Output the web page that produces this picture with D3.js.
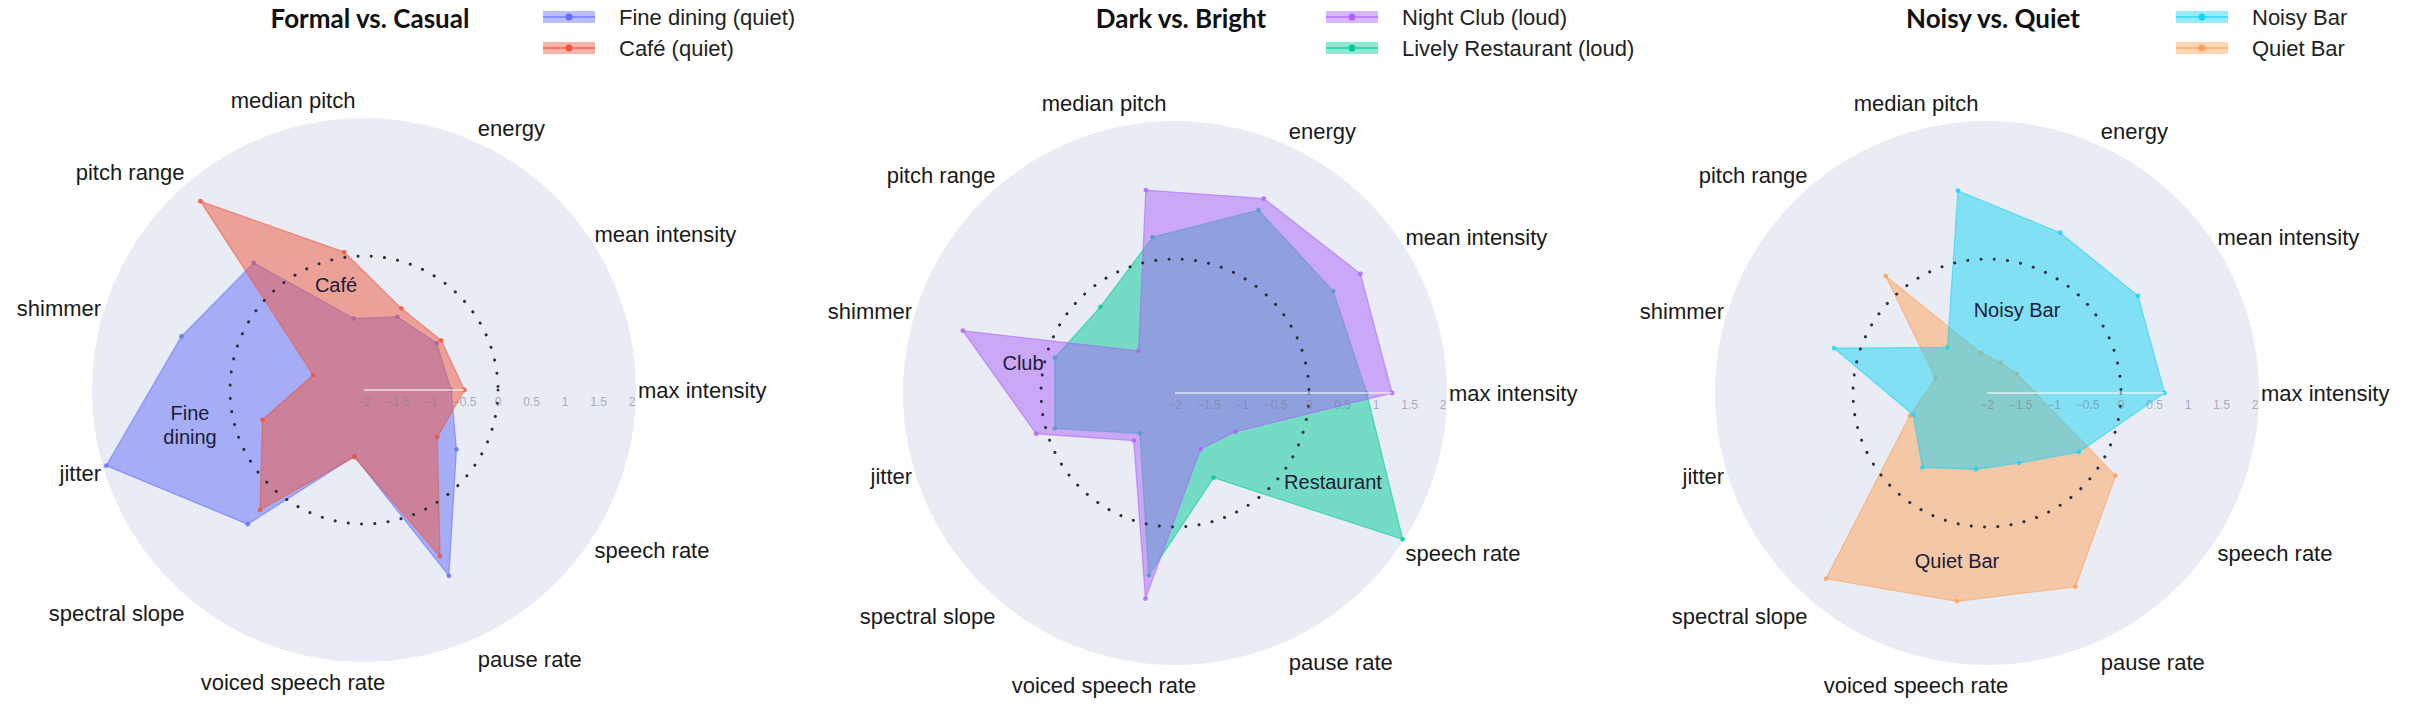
<!DOCTYPE html>
<html>
<head>
<meta charset="utf-8">
<script src="https://cdn.jsdelivr.net/npm/d3@7"></script>
<style>
  body { margin: 0; background: #fff; }
  svg text { font-family: "Liberation Sans", Arial, sans-serif; }
</style>
</head>
<body>
<script>
'use strict';

// feature order runs counter-clockwise, starting at 3 o'clock
const features = ['max intensity', 'mean intensity', 'energy', 'median pitch', 'pitch range',
  'shimmer', 'jitter', 'spectral slope', 'voiced speech rate', 'pause rate', 'speech rate'];
const radialTicks = [-2, -1.5, -1, -0.5, 0, 0.5, 1, 1.5, 2];
const panelTitles = ['Formal vs. Casual', 'Dark vs. Bright', 'Noisy vs. Quiet'];

// z-scored values, same order as features
const fineDining = [-0.7, -0.71, -0.8, -0.92, 0.51, 0.84, 2.01, 0.65, -1.0, 1.05, -0.36];
const cafe = [-0.5, -0.63, -0.66, 0.08, 1.73, -1.21, -0.42, 0.37, -0.99, 0.73, -0.7];
const nightClub = [1.24, 1.29, 1.19, 1.06, -1.17, 1.3, 0.16, -1.06, 1.1, -1.08, -0.93];
const livelyRestaurant = [0.86, 0.81, 1.0, 0.35, -0.3, -0.13, -0.13, -1.2, 0.75, -0.61, 2.04];
const noisyBar = [0.65, 0.68, 0.63, 1.05, -1.1, 0.38, -0.85, -0.53, -0.85, -0.85, -0.37];
const quietBar = [-1.28, -1.47, -1.5, -1.4, 0.31, -1.2, -0.8, 1.67, 1.14, 1.18, 0.28];

// series per panel, listed in legend order; "z" is the drawing order
const panels = [
  { title: panelTitles[0], cx: 364, cy: 390, legendX: 543,
    series: [
      { name: 'Fine dining (quiet)', values: fineDining, color: '#636efa', z: 0 },
      { name: 'Café (quiet)', values: cafe, color: '#ef553b', z: 1 }
    ],
    notes: [
      { lines: ['Café'], dx: -28, dy: -105 },
      { lines: ['Fine', 'dining'], dx: -174, dy: 23 }
    ] },
  { title: panelTitles[1], cx: 1175, cy: 393, legendX: 1326,
    series: [
      { name: 'Night Club (loud)', values: nightClub, color: '#ab63fa', z: 1 },
      { name: 'Lively Restaurant (loud)', values: livelyRestaurant, color: '#00cc96', z: 0 }
    ],
    notes: [
      { lines: ['Club'], dx: -152, dy: -30 },
      { lines: ['Restaurant'], dx: 158, dy: 89 }
    ] },
  { title: panelTitles[2], cx: 1987, cy: 393, legendX: 2176,
    series: [
      { name: 'Noisy Bar', values: noisyBar, color: '#19d3f3', z: 1 },
      { name: 'Quiet Bar', values: quietBar, color: '#ffa15a', z: 0 }
    ],
    notes: [
      { lines: ['Noisy Bar'], dx: 30, dy: -83 },
      { lines: ['Quiet Bar'], dx: -30, dy: 168 }
    ] }
];

const svg = d3.select('body').append('svg')
  .attr('width', 2420)
  .attr('height', 707);

// radius for a value, and d3 radial angle for a feature index
const rScale = d3.scaleLinear().domain([-2, 2.06]).range([0, 272]);
const angle = d3.scaleLinear().domain([0, features.length]).range([Math.PI / 2, Math.PI / 2 - 2 * Math.PI]);
const outerR = rScale.range()[1];

const radial = d3.lineRadial()
  .angle((d, i) => angle(i))
  .radius((d) => rScale(d))
  .curve(d3.curveLinearClosed);

const defs = svg.append('defs');

panels.forEach(drawPanel);

function drawPanel(p, pi) {
  const g = svg.append('g').attr('transform', `translate(${p.cx},${p.cy})`);

  // polar background
  g.append('circle').attr('r', outerR).attr('fill', '#e9ecf5');

  // polygons
  const ordered = p.series.slice().sort((a, b) => a.z - b.z);
  const clip = defs.append('clipPath').attr('id', 'fills' + pi);
  ordered.forEach((s) => {
    clip.append('path').attr('d', radial(s.values));
    g.append('path')
      .attr('d', radial(s.values))
      .attr('fill', s.color)
      .attr('fill-opacity', 0.5)
      .attr('stroke', s.color)
      .attr('stroke-opacity', 0.55)
      .attr('stroke-width', 1.3);
    g.selectAll(null)
      .data(s.values)
      .enter()
      .append('circle')
        .attr('cx', (d, i) => rScale(d) * Math.sin(angle(i)))
        .attr('cy', (d, i) => -rScale(d) * Math.cos(angle(i)))
        .attr('r', 2.4)
        .attr('fill', s.color)
        .attr('opacity', 0.8);
  });

  // dotted reference ring at zero
  g.append('circle')
    .attr('r', rScale(0))
    .attr('fill', 'none')
    .attr('stroke', '#2b2f3f')
    .attr('stroke-width', 3)
    .attr('stroke-linecap', 'round')
    .attr('stroke-dasharray', '0.1 13.2');

  // radial axis along 3 o'clock (white line only shows over the fills)
  g.append('line')
    .attr('x1', 0).attr('x2', rScale(2))
    .attr('clip-path', `url(#fills${pi})`)
    .attr('stroke', '#fff')
    .attr('stroke-opacity', 0.75)
    .attr('stroke-width', 1.5);
  g.selectAll('.rtick')
    .data(radialTicks)
    .enter()
    .append('text')
      .attr('x', (d) => rScale(d))
      .attr('y', 16)
      .attr('text-anchor', 'middle')
      .style('font-size', '12px')
      .attr('fill', '#7d8392')
      .attr('opacity', 0.6)
      .text((d) => d3.format('~g')(d).replace('-', '\u2212'));

  // feature labels
  features.forEach((f, i) => {
    const a = angle(i);
    const sinT = Math.cos(a), cosT = Math.sin(a);
    const mid = Math.abs(cosT) < 0.2;
    const rr = outerR + 2;
    let x = rr * cosT;
    const push = sinT > 0 ? (mid ? 18 : 14) : (mid ? 22 : 22);
    const y = -rr * sinT - sinT * push;
    let anchor = cosT > 0 ? 'start' : 'end';
    if (mid) { anchor = 'middle'; x -= 32; }
    g.append('text')
      .attr('x', x).attr('y', y)
      .attr('text-anchor', anchor)
      .attr('dominant-baseline', 'central')
      .style('font-size', '22px')
      .attr('fill', '#1a1a1a')
      .text(f);
  });

  // in-plot notes
  p.notes.forEach((n) => {
    const t = g.append('text')
      .attr('text-anchor', 'middle')
      .style('font-size', '20px')
      .attr('fill', '#1c1c38');
    n.lines.forEach((line, k) => {
      t.append('tspan')
        .attr('x', n.dx)
        .attr('y', n.dy + k * 24)
        .attr('dominant-baseline', 'central')
        .text(line);
    });
  });

  // title
  svg.append('text')
    .attr('x', p.cx + 6)
    .attr('y', 28)
    .attr('text-anchor', 'middle')
    .style('font-family', 'Lato, "Open Sans", sans-serif')
    .style('font-weight', 700)
    .style('font-size', '26px')
    .attr('fill', '#111')
    .text(p.title);

  // legend
  p.series.forEach((s, k) => {
    const ly = 17 + k * 31;
    const lg = svg.append('g').attr('transform', `translate(${p.legendX},${ly})`);
    lg.append('rect')
      .attr('x', 0).attr('y', -6)
      .attr('width', 52).attr('height', 12)
      .attr('fill', s.color).attr('fill-opacity', 0.45);
    lg.append('line')
      .attr('x1', 0).attr('x2', 52)
      .attr('stroke', s.color).attr('stroke-opacity', 0.6).attr('stroke-width', 2);
    lg.append('circle')
      .attr('cx', 26).attr('r', 3.5)
      .attr('fill', s.color);
    lg.append('text')
      .attr('x', 76)
      .attr('dominant-baseline', 'central')
      .style('font-size', '22px')
      .attr('fill', '#222')
      .text(s.name);
  });
}
</script>
</body>
</html>
